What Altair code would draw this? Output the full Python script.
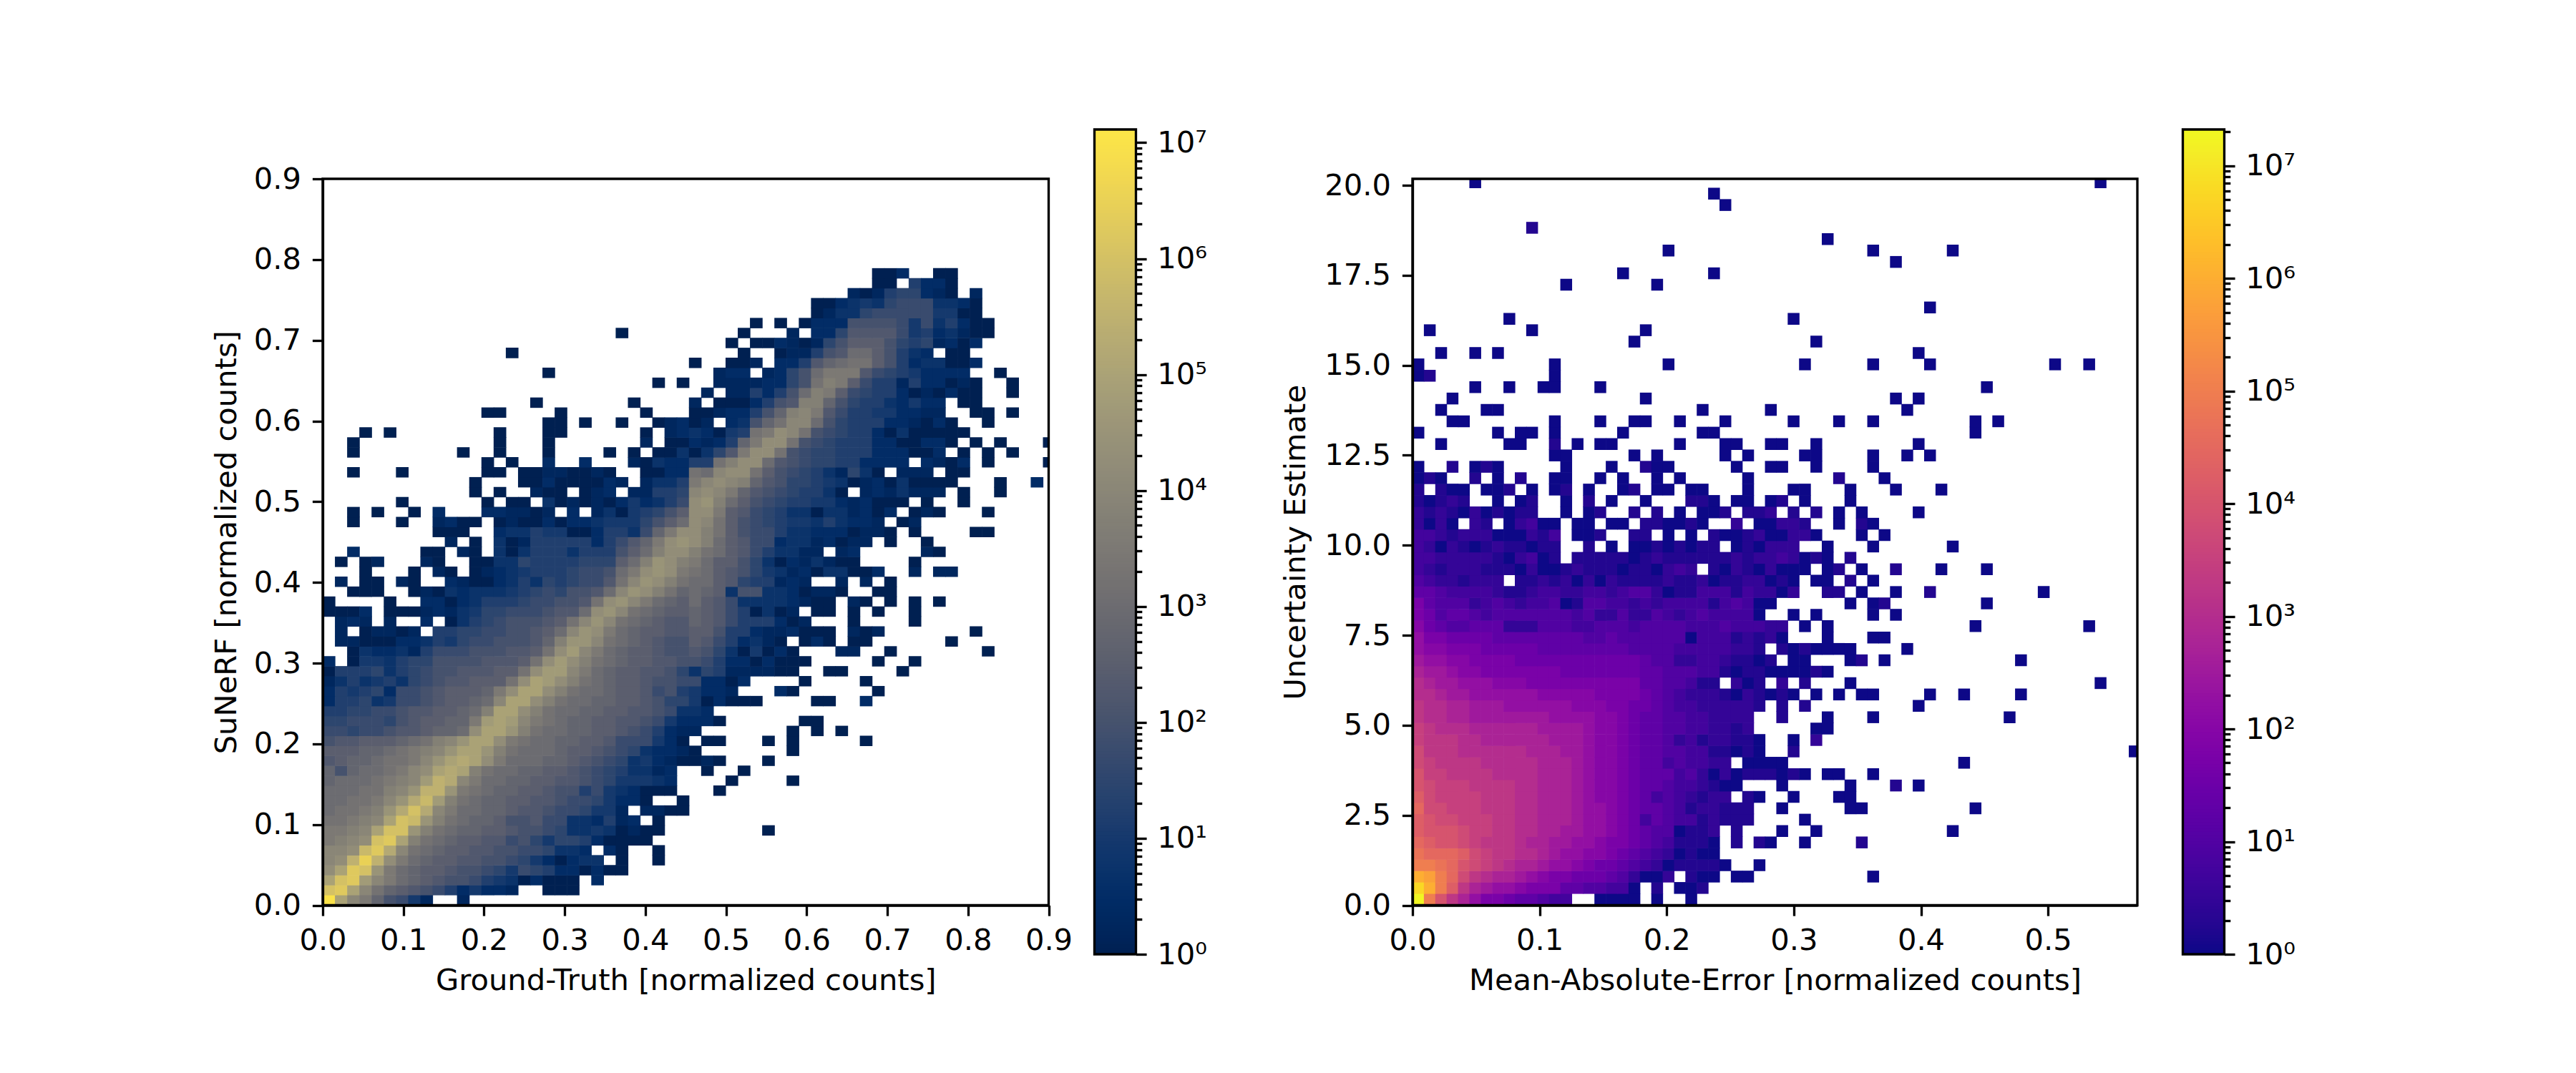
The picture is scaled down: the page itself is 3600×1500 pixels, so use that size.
import altair as alt
import numpy as np

# Each character is a cell's count as a log level: count = 10 ** (base36(char) / 4); "." is an empty bin.
LEFT_A = [
"skgeb 8741. .1... ..... ..... .....",
"opkgd ba987 52422 1..00 0.... .....",
"kopjg ecba9 88754 30200 0.2.. .....",
"hkpoi ecbaa 98876 47652 20200 .....",
"ghmqm hecba a9988 76420 233.0 ..0..",
"gghnp lgdcb aa998 87763 32.20 ..0..",
"efgho pkfdc baa99 78646 65200 00...",
"eefgk ooifd cbbaa 98876 33430 100..",
"ddefg konif dcbba 88977 33251 2.0..",
"cddef ilolg eccbb a9987 76441 .1100",
"ccdde gilnj fdcbb aa998 77642 20..0",
"cccdd fgimm iedcb baa98 85743 2000.",
"bcccd efgjm lgecc bbaa9 98764 4432.",
"b8bcc deghk lkfdc cbbaa 98765 3312.",
"9abbc ddegi klkhe cccbb a9876 34210",
"aaabb cdefg ikkif dcccb aa987 63221",
"899aa abcdf gikkh edccb baa97 77420",
"77677 899ab bchkk ifdcc bbaa9 87521",
"66777 689aa bbejk jgedc bbaa9 98742",
"55667 7899a abcfk khfdc cbbaa 99873",
"25563 47789 aabcg kkhfd ccbba a9866",
"25456 27789 aaabe hkkhf dccba a9785",
"13534 53678 99aaa dhkjh fdcba a9887",
"05556 35678 8999a adhjj gecba a9986",
"2.044 35668 88899 9adhj hfdcb aa998",
"..032 23157 77888 99adh jgecb aa988",
".1100 02235 46778 889bf iigdc ba988",
".1.01 101.5 56677 889ac gihec baa99",
".121. 1..2. 03567 8889a dgigd cba99",
"0002. 00012 13466 77789 9chig dcbaa",
"0.... 0..22 02355 56778 89dhi gecba",
"..000 ..010 32333 45676 889cg ihfdb",
".1.00 .10.. 21002 35365 6779d gihfd",
"...0. ..0.1 0.012 34555 6778c ehihe",
".0.01 ...10 ..003 36555 5666a cfihf",
"..2.. ...00 .10.3 03555 35558 acfhh",
"..... ..... 1.0.3 01555 55257 9behi",
"..... ....0 00..2 33544 00255 37beh",
"..0.. .0..1 200.0 10020 22344 468ac",
"..0.0 ..0.2 ...22 1101. 2.130 4568a",
"..... .0... ...0. 00.30 10102 42357",
"..... ..... ..0.0 ..100 .012. 11556",
"..... ..... ..0.. .0020 00021 .1335",
"..0.. .0... ...00 .0011 0010. .0022",
"..... ..... ...0. 0..2. .2... 10322",
"..0.. ..... .0..0 ...0. ...0. 0.003",
"..0.. ..... ....0 ...0. ..... .1.00",
"...0. 0.... ....0 ...00 ..... .0.12",
"..... ..... ..... ...00 .0..0 ..012",
"..... ..... ...00 ....0 ..... .0...",
"..... ..... ..... ..0.. ..... 0....",
"",
"..... ..... ..... ..... ..... ..0.0",
"..... ..... ..... ...0. ..... .....",
"",
"..... ..... ..... 0.... ..... .....",
"",
"..... ..... ..... ..... ....0 .....",
"", "", "", "", "", "",
]

LEFT_B = [
"", "", "", "", "", "", "",
"..... .0...",
"", "", "",
"..0..",
"...0. ...0.",
".0..0",
"010.. .0...",
"0.... ...0.",
".00.. .0.0. ....0",
"1.... ...0. 0.0..",
"220.. ....0 0....",
"32...",
"40200 0.... 00..2",
"4221. ..20. ..... 0....",
"72202 ....0 ....0",
"36511 1100. .00.. ..0..",
"87522 02000 ..... 0..0.",
"98630 4020. ..11. .0... ....0",
"a9752 310.0 20.00 ..... .0...",
"aa855 21120 00.10 1.... ...0.",
"ba975 55201 ...0. ...0.",
"ba975 0301. 00.0. 0..0.",
"ca973 33321 00.10 .0.0. 0....",
"cba38 83320 110.. 00...",
"cca96 55121 ..1.1 .0...",
"dca98 64312 03300 2..1. 11...",
"ecaa8 63021 3100. ...0.",
"fdca9 75331 1.12. ....1 0....",
"hfca9 77233 12011 .0..0",
"hfda8 77533 22201 10.0. ...00",
"hgda8 76544 35322 1.01.",
"hhea9 76533 03312 02.01 0...0",
"hifca 87655 44212 000.0 ..0..",
"ghgeb 98765 530.1 21311 1.0.. 0....",
"eghgf b9866 54301 20300 00... 0..2.",
"dcghh da876 53163 0.111 .00..",
"55dfh hc987 66552 222.2 102.0 ....0",
"0369e hhd87 66555 22200 2.0.0 .0...",
"2125b ehhd8 76555 22002 20.0. 0...0",
"32045 dehgd 87655 20300 000..",
"01.23 8bdgg c8655 52210 20..0",
"00122 58bfg e9755 44221 1..00 .0...",
"1.000 2589f fb865 53242 2.00.",
".1.11 5258c fea76 55201 0200. .0...",
"..111 12268 dfea7 55152 2010. .0...",
"..122 .1268 ceee9 76542 222.. 0....",
"0..00 1.225 9bcdd a8523 3002.",
"....0 ..011 589cc a8532 .00..",
"...0. 00210 168aa a8656 1202.",
"....0 ...1. 22699 99745 23100",
"..... 0.0.0 22288 88747 35200",
"..... ..... 01336 77777 4400.",
"..... ..... 00234 36777 3320.",
"..... ..... ...10 15662 10.1.",
"..... ..... ..... 00.52 20...",
"..... ..... ..... 002.. 00...",
]

RIGHT_A = [
"tkgdb 97765 5433. .0000 .0..0",
"rokhd ba998 77755 44330 .1.00 1",
"onkif dcbba 98776 66542 002.1 00.00",
"kkjig fedcb ba998 76654 32011 110.. 0",
"jiiih feddc cba99 88765 43201 00",
"ihggf edddc bbaa9 98776 54311 10.1. 10",
"hgggf eeddc cbbaa 99876 54401 12.1",
"hgffe eeddc cbbba 99876 35433 12111",
"iffee edddc cbbba 99876 55431 22111",
"hfeee edddc cbbba 98876 53432 122.1 0",
"gfeee ddddc cbbba 98876 55433 2100",
"geedd ddccc cbbba 98876 55534 20201 11",
"feddd dcccc cbbba 98876 55343 322.0 00",
"fdddc ccccc bbbaa 98876 55443 31101 0",
"edddc cbbbb bbaaa 98876 55423 12211 0",
"edccc bbbbb baaaa 98876 55443 32212",
"dccbb aaaaa aa999 98876 55443 32222",
"dccbb aaa99 99998 88776 65433 22222 1",
"ccbaa 99999 98888 87777 65432 22102 10",
"cbaa9 99888 77777 77777 55443 11.20 1",
"baa98 87777 77766 66666 55444 33101 10",
"a9988 77776 66666 66666 54422 33211 01",
"98877 76666 65555 55554 44433 33322 1",
"97766 66555 55555 44544 44440 33312 12",
"86544 55522 24443 34443 44443 33433 32",
"76455 43444 44443 42242 24323 43333 0",
"75444 23432 33401 44332 32333 31343 00",
"55433 33211 23322 33234 42011 33313 22",
"43221 222.1 12120 20211 11211 20112 20",
"32122 21110 20012 11101 10232 .1021 02",
"33222 22102 301.1 11110 12111 11121 22",
"32021 01211 011.. 1.0.0 01010 11.01 02",
"33212 22000 213.0 01..1 1.0.0 .1001 20",
"2020. 21.02 300.0 0.00. 11001 0..2. 00",
"21210 20101 1..0. 01..1 .1.0. 001.1 12",
"10121 ..0.0 1..0. 1.0.. 0...1 10.00 .0",
"1.100 .001. 0.01. 0..01 .00.0 0...0",
"010.. 1.0.1 ..00. .0.0. .0.0. ....0",
"0..1. 010.. ...0. ..0.. 100.. ...0. .0",
"..... ..... ..00. ....0 .0... ..0.0",
"..0.. ...00 ..1.0 .00.. ...0. ..00. .0",
"0.... ..0.0 0.0.. ...0. ..... 00...",
"...00 ..... ..0.. .0..0 0..0. ..0..",
"..0.. .00.. ..... ..... ..... 0.... .0",
"...0. ..... ..... ..... 0....",
"..... 0..0. .00.. .0...",
"01... ..... ..0..",
"0.... ..... ..0.. ..... ..0..",
"..0.. 0.0..",
"..... ..... ..... ....0",
".0... ..... 0.... ..... 0....",
"..... ...0.",
"",
"",
"..... ..... ...0. ..... .0...",
"..... ..... ..... ...0. ..... .0...",
"",
"..... ..... ..... ..... ..0..",
"",
"..... ..... 1....",
"",
"..... ..... ..... ..... ..... ..0..",
"..... ..... ..... ..... ..... .0...",
"..... 0....",
]

RIGHT_B = {
2: "..... ...0.", 5: "..0.. ..1..", 6: "0..0. ..... ..... 0....", 7: "..0..",
8: "0.... .00.. ..... ..0..", 9: ".0... 00...", 10: "0.... .0... 1.0..",
11: "010.0 0..0.", 12: "0.... ..... ..... .0...", 13: ".1... ..... ..... ..... ..... ..... .0",
14: ".0.2.", 15: "...00", 16: "1...0 ...0. ..... ..... 0....", 17: "1.1.. ..... ..0..",
18: "10.0. 0.00. ...0. .0... .0...", 19: "2.1.. .0... ..... ..... ..... ...0.",
20: "00010", 21: ".00.. .01.0 ..... ..... .0...", 22: "10100 00... .0...",
23: "0...0 ...00", 24: "2.0.0 ..... ..... ..0.. ..... ..0..", 25: ".0.0. ...0. 0....",
26: "..... .0.01 ..... ...0.", 27: "02..1 1.0.. 0..1. ..... ...0.", 28: "10.00 .1.0.",
29: "000.0 1.0.. 1...0 ...0.", 30: "32010 .1...", 31: "22..0 ...0. ..... 0....",
32: "0220. ..0.0", 33: "221.. 0.10.", 34: ".1.1. 0.0.. ..0..", 35: "1.0.. .0...",
36: ".00.. .0... 0...0", 37: "..... 1...0", 38: "0..0. ...0.", 39: "..00. ...0. .0.0.",
40: "0..0. ..... ..0..", 41: "..... ..... ..... ..0..", 42: ".0... 0..0. ..... ..0.0",
43: "..... ..... .0...", 44: "..... ..... 0.0..", 45: "..... ..... ..... ...0.",
47: "..0.. ...0. ...0. ..... ....0 ..0..", 48: "..... ..... ..0..", 49: "...0.",
51: ".0...", 52: "..... ..... ...0.", 56: "..... ..... 0....", 57: "..... ...0. ..... 0....",
58: "....0", 63: "..... ..... ..... ..... ..... ...0.",
}

LEFT_DX, LEFT_DY = 0.015134, 0.012325
RIGHT_DX, RIGHT_DY = 0.008945, 0.3162
LEFT_MAX = 1.3e7
RIGHT_MAX = 2.1e7
LEFT_X_TICKS = [0.0, 0.1, 0.2, 0.3, 0.4, 0.5, 0.6, 0.7, 0.8, 0.9]
LEFT_Y_TICKS = LEFT_X_TICKS
RIGHT_X_TICKS = [0.0, 0.1, 0.2, 0.3, 0.4, 0.5]
RIGHT_Y_TICKS = [0.0, 2.5, 5.0, 7.5, 10.0, 12.5, 15.0, 17.5, 20.0]

FONT = "DejaVu Sans"
FS = 41.67
LW = 3.33
PANEL_H = 1153
PLOT_TOP, PLOT_BOTTOM = 69, 1084.5
BAR_W, BAR_EXTRA, GAP = 58, 322.5, 63.5


def clean(s):
    return s.replace(" ", "")


def records(a_rows, b_rows, split, dx, dy, xmax, ymax):
    out = []
    ex, ey = xmax * 0.0006, ymax * 0.0006
    for r, a in enumerate(a_rows):
        row = clean(a) + "." * (split - len(clean(a)))
        row += clean(b_rows(r))
        for c, ch in enumerate(row):
            if ch != ".":
                out.append({"x0": c * dx, "x1": min((c + 1) * dx + ex, xmax),
                            "y0": r * dy, "y1": min((r + 1) * dy + ey, ymax),
                            "v": 10 ** (int(ch, 36) / 4)})
    return out


def heat(data, xmax, ymax, xticks, yticks, xtitle, ytitle, vmax, scheme, plot_w, ypad):
    x = alt.X("x0:Q", title=xtitle, scale=alt.Scale(domain=[0, xmax], nice=False, zero=False),
              axis=alt.Axis(values=xticks, format=".1f", offset=PLOT_BOTTOM - PANEL_H, titlePadding=14,
                            labelOverlap=False, labelFlush=False, zindex=1))
    y = alt.Y("y0:Q", title=ytitle,
              scale=alt.Scale(domain=[0, ymax], nice=False, zero=False, range=[PLOT_BOTTOM, PLOT_TOP]),
              axis=alt.Axis(values=yticks, format=".1f", titlePadding=ypad, labelPadding=16,
                            labelOverlap=False, labelFlush=False, zindex=1))
    rects = alt.Chart(alt.Data(values=data)).mark_rect(clip=True, strokeWidth=0).encode(
        x=x, x2="x1:Q", y=y, y2="y1:Q",
        color=alt.Color("v:Q", legend=None,
                        scale=alt.Scale(type="log", domain=[1, vmax], scheme=scheme, nice=False)))
    frame = alt.Chart(alt.Data(values=[{"x0": 0, "x1": xmax, "y0": 0, "y1": ymax}])).mark_rect(
        fillOpacity=0, stroke="black", strokeWidth=LW).encode(x=x, x2="x1:Q", y=y, y2="y1:Q")
    return alt.layer(rects, frame).properties(width=plot_w, height=PANEL_H)


def colorbar(vmax, scheme):
    edges = np.logspace(0, np.log10(vmax), 257)
    bar = [{"y0": float(a), "y1": float(min(b * 1.03, vmax)), "x0": 0, "x1": 1, "v": float(np.sqrt(a * b))}
           for a, b in zip(edges[:-1], edges[1:])]
    top = int(np.floor(np.log10(vmax)))
    ticks = [m * 10 ** e for e in range(top + 1) for m in range(1, 10) if m * 10 ** e <= vmax]
    lab = ("abs(log(datum.value)/LN10-round(log(datum.value)/LN10))<0.000001 ? "
           "'10'+['⁰','¹','²','³','⁴','⁵','⁶','⁷'][round(log(datum.value)/LN10)] : ''")
    x = alt.X("x0:Q", axis=None, scale=alt.Scale(domain=[0, 1], nice=False, range=[0, BAR_W]))
    y = alt.Y("y0:Q", title=None, scale=alt.Scale(type="log", domain=[1, vmax], nice=False),
              axis=alt.Axis(orient="right", values=ticks, labelExpr=lab, offset=-BAR_EXTRA, domain=False,
                            labelOverlap=False, labelBound=False, labelFlush=False,
                            tickSize={"condition": {
                                "test": "abs(log(datum.value)/LN10-round(log(datum.value)/LN10))<0.000001",
                                "value": 14.6}, "value": 8.3}))
    rects = alt.Chart(alt.Data(values=bar)).mark_rect(strokeWidth=0).encode(
        x=x, x2="x1:Q", y=y, y2="y1:Q",
        color=alt.Color("v:Q", legend=None,
                        scale=alt.Scale(type="log", domain=[1, vmax], scheme=scheme, nice=False)))
    frame = alt.Chart(alt.Data(values=[{"x0": 0, "x1": 1, "y0": 1, "y1": vmax}])).mark_rect(
        fillOpacity=0, stroke="black", strokeWidth=LW).encode(x=x, x2="x1:Q", y=y, y2="y1:Q")
    return alt.layer(rects, frame).properties(width=BAR_W + BAR_EXTRA, height=PANEL_H)


left = records(LEFT_A, lambda r: LEFT_B[r] if r < len(LEFT_B) else "", 30, LEFT_DX, LEFT_DY, 0.9, 0.9)
right = records(RIGHT_A, lambda r: RIGHT_B.get(r, ""), 32, RIGHT_DX, RIGHT_DY, 0.5703, 20.18)

chart = alt.hconcat(
    heat(left, 0.9, 0.9, LEFT_X_TICKS, LEFT_Y_TICKS, "Ground-Truth [normalized counts]",
         "SuNeRF [normalized counts]", LEFT_MAX, "cividis", 1014.5, 16),
    colorbar(LEFT_MAX, "cividis"),
    heat(right, 0.5703, 20.18, RIGHT_X_TICKS, RIGHT_Y_TICKS, "Mean-Absolute-Error [normalized counts]",
         "Uncertainty Estimate", RIGHT_MAX, "plasma", 1013, 18),
    colorbar(RIGHT_MAX, "plasma"),
    spacing=GAP, bounds="flush",
).resolve_scale(color="independent", x="independent", y="independent").properties(
    padding={"left": 288, "top": 156, "right": 5, "bottom": 5}, background="white"
).configure_view(stroke=None).configure_axis(
    grid=False, labelFont=FONT, titleFont=FONT, labelFontSize=FS, titleFontSize=FS,
    titleFontWeight="normal", labelColor="black", titleColor="black", tickColor="black",
    domainColor="black", tickWidth=LW, domainWidth=LW, tickSize=14.6, labelPadding=14.6,
)

chart.save("out.html", embed_options={"renderer": "svg", "actions": False})
